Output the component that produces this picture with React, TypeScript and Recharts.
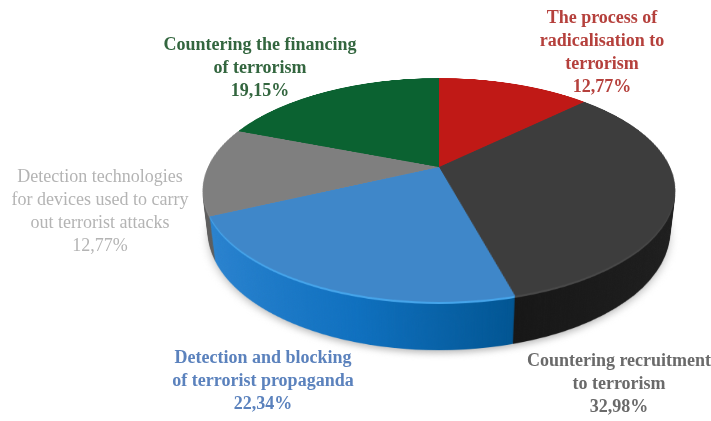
import { PieChart, Pie, Cell } from 'recharts';

const categories = [
  'The process of radicalisation to terrorism',
  'Countering recruitment to terrorism',
  'Detection and blocking of terrorist propaganda',
  'Detection technologies for devices used to carry out terrorist attacks',
  'Countering the financing of terrorism',
];
const shares = [12.77, 32.98, 22.34, 12.77, 19.15];
const labelLines = [
  ['The process of', 'radicalisation to', 'terrorism'],
  ['Countering recruitment', 'to terrorism'],
  ['Detection and blocking', 'of terrorist propaganda'],
  ['Detection technologies', 'for devices used to carry', 'out terrorist attacks'],
  ['Countering the financing', 'of terrorism'],
];

const topColors = ['#c01916', '#3d3d3d', '#3f87c9', '#7f7f7f', '#0b6231'];
const rimColors = ['#c01916', '#484848', '#45a4ea', '#8a8a8a', '#0b6231'];
const sideColors = ['#7d0f0d', 'url(#sideDark)', 'url(#sideBlue)', '#5e5e5e', '#06401f'];
const textColors = ['#b5403c', '#6a6a6a', '#5b82bd', '#b4b4b4', '#33663f'];
const labelBox = [
  { x: 602, y: 6 },
  { x: 619, y: 349 },
  { x: 263, y: 346 },
  { x: 100, y: 165 },
  { x: 260, y: 33 },
];

const data = categories.map((name, i) => ({ name, value: shares[i] }));

const R = 231;
const SIZE = 2 * R + 8;
const CX = 439;
const CY = 167;
const DEPTH = 48;

function Layer({ z, fills, blur }: { z: number; fills: string[]; blur?: number }) {
  return (
    <div
      style={{
        position: 'absolute',
        left: 0,
        top: 0,
        transform: `translateZ(${z}px)`,
        filter: blur ? `blur(${blur}px)` : undefined,
      }}
    >
      <PieChart width={SIZE} height={SIZE} margin={{ top: 0, right: 0, bottom: 0, left: 0 }}>
        <Pie
          data={data}
          dataKey="value"
          cx="50%"
          cy="50%"
          innerRadius={0}
          outerRadius={R}
          startAngle={90}
          endAngle={-270}
          stroke="none"
          isAnimationActive={false}
        >
          {data.map((d, i) => (
            <Cell key={d.name} fill={fills[i]} />
          ))}
        </Pie>
      </PieChart>
    </div>
  );
}

export default function App() {
  const depths: number[] = [];
  for (let z = DEPTH; z >= 3; z--) depths.push(z);

  return (
    <div style={{ position: 'absolute', left: 0, top: 0, width: 711, height: 421, overflow: 'hidden', background: '#fff' }}>
      <svg width="0" height="0" style={{ position: 'absolute' }}>
        <defs>
          <linearGradient id="sideBlue" gradientUnits="userSpaceOnUse" x1="0" y1="0" x2={SIZE * 0.65} y2="0">
            <stop offset="0%" stopColor="#2f86d2" />
            <stop offset="55%" stopColor="#0f70bf" />
            <stop offset="100%" stopColor="#00538f" />
          </linearGradient>
          <linearGradient id="sideDark" gradientUnits="userSpaceOnUse" x1={SIZE * 0.6} y1="0" x2={SIZE} y2="0">
            <stop offset="0%" stopColor="#161616" />
            <stop offset="100%" stopColor="#1f1f1f" />
          </linearGradient>
        </defs>
      </svg>

      <div
        style={{
          position: 'absolute',
          left: CX - SIZE / 2,
          top: CY - SIZE / 2,
          width: SIZE,
          height: SIZE,
          transform: 'perspective(997px) rotateX(62.35deg)',
          transformStyle: 'preserve-3d',
        }}
      >
        <Layer z={-DEPTH - 3} fills={['#bbb', '#bbb', '#bbb', '#bbb', '#bbb']} blur={4} />
        {depths.map((z) => (
          <Layer key={z} z={-z} fills={sideColors} />
        ))}
        <Layer z={-2} fills={rimColors} />
        <Layer z={-1} fills={rimColors} />
        <Layer z={0} fills={topColors} />
      </div>

      {labelLines.map((lines, i) => (
        <div
          key={categories[i]}
          style={{
            position: 'absolute',
            left: labelBox[i].x - 130,
            top: labelBox[i].y,
            width: 260,
            textAlign: 'center',
            fontFamily: '"Liberation Serif", serif',
            fontSize: 18,
            lineHeight: '23px',
            fontWeight: i === 3 ? 400 : 700,
            color: textColors[i],
          }}
        >
          {lines.map((line) => (
            <div key={line}>{line}</div>
          ))}
          <div>{shares[i].toFixed(2).replace('.', ',')}%</div>
        </div>
      ))}
    </div>
  );
}
